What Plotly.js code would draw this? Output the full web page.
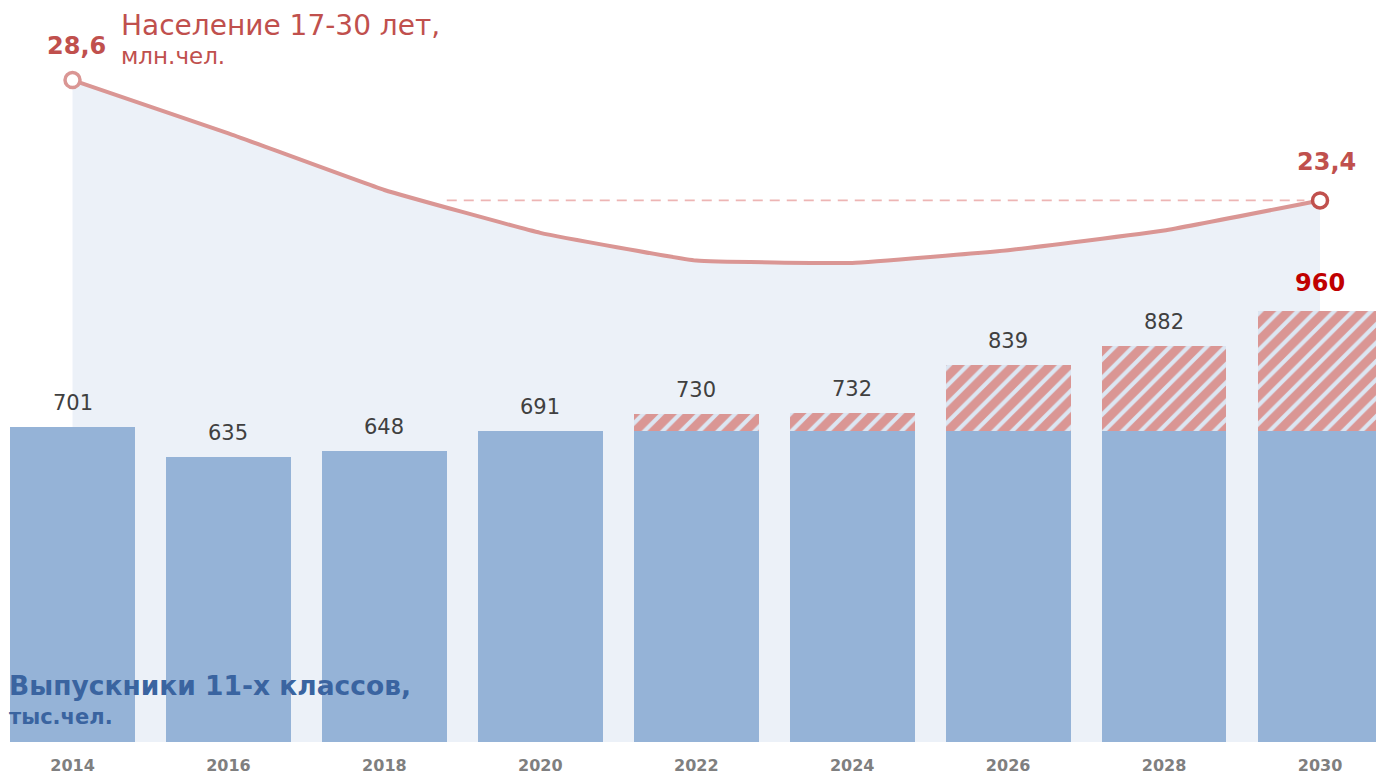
<!DOCTYPE html>
<html>
<head>
<meta charset="utf-8">
<script src="https://cdn.plot.ly/plotly-3.0.1.min.js"></script>
<style>html,body{margin:0;padding:0;background:#fff;}#chart{width:1376px;height:779px;}</style>
</head>
<body>
<div id="chart"></div>
<script>
// ---- data ----
const years = [2014, 2016, 2018, 2020, 2022, 2024, 2026, 2028, 2030];
const tickLabels = ['2014', '2016', '2018', '2020', '2022', '2024', '2026', '2028', '2030'];
const graduates = [701, 635, 648, 691, 730, 732, 839, 882, 960];        // тыс.чел.
const forecast = [false, false, false, false, true, true, true, true, true];
const lastActual = 691;                                                  // level of last actual bar
const population = [28.6, 26.3, 23.85, 22.0, 20.8, 20.7, 21.25, 22.1, 23.4]; // млн.чел.
const graduatesLabel = ['701', '635', '648', '691', '730', '732', '839', '882', '960'];
const populationLabel = ['28,6', '23,4'];

// split bars into base (blue) and forecast increment (hatched)
const baseBars = graduates.map((v, i) => forecast[i] ? Math.min(v, lastActual) : v);
const extraBars = graduates.map((v, i) => v - baseBars[i]);

const FONT = '"DejaVu Sans", sans-serif';
const RED = '#C0504D';
const LINE = '#DA9694';

const traces = [
  {
    x: years, y: population, type: 'scatter', mode: 'lines',
    line: {color: LINE, width: 4, shape: 'spline', smoothing: 0.3},
    fill: 'tozeroy', fillcolor: '#ECF1F8',
    xaxis: 'x', yaxis: 'y', hoverinfo: 'skip', showlegend: false
  },
  {
    x: [2018.8, years[years.length - 1] - 0.2],
    y: [population[population.length - 1], population[population.length - 1]],
    type: 'scatter', mode: 'lines',
    line: {color: '#EDB5B4', width: 1.8, dash: '10px,7px'},
    xaxis: 'x', yaxis: 'y', hoverinfo: 'skip', showlegend: false
  },
  {
    x: [years[0], years[years.length - 1]],
    y: [population[0], population[population.length - 1]],
    type: 'scatter', mode: 'markers',
    marker: {size: 15, color: '#ffffff', line: {width: 3.5, color: [LINE, RED]}},
    xaxis: 'x', yaxis: 'y', hoverinfo: 'skip', showlegend: false
  },
  {
    x: years, y: baseBars, type: 'bar', width: 1.6,
    marker: {color: '#95B3D7', line: {width: 0}},
    xaxis: 'x', yaxis: 'y2', hoverinfo: 'skip', showlegend: false
  },
  {
    x: years, y: extraBars, type: 'bar', width: 1.6,
    marker: {color: '#DCE6F2', line: {width: 0},
      pattern: {shape: '/', fgcolor: '#DA9694', bgcolor: '#DCE6F2', size: 13, solidity: 0.68}},
    xaxis: 'x', yaxis: 'y2', hoverinfo: 'skip', showlegend: false
  }
];

const annotations = [];
graduates.forEach((v, i) => {
  const last = i === graduates.length - 1;
  annotations.push({
    x: years[i], y: v, xref: 'x', yref: 'y2', yanchor: 'bottom', yshift: last ? 12 : 10,
    text: last ? '<b>' + graduatesLabel[i] + '</b>' : graduatesLabel[i],
    showarrow: false,
    font: {family: FONT, size: last ? 24 : 21, color: last ? '#C00000' : '#404040'}
  });
});
annotations.push({
  x: years[0], y: population[0], xref: 'x', yref: 'y', yanchor: 'bottom', yshift: 18, xshift: 4,
  text: '<b>' + populationLabel[0] + '</b>', showarrow: false,
  font: {family: FONT, size: 24, color: RED}
});
annotations.push({
  x: years[years.length - 1], y: population[population.length - 1], xref: 'x', yref: 'y',
  yanchor: 'bottom', yshift: 22, xshift: 6,
  text: '<b>' + populationLabel[1] + '</b>', showarrow: false,
  font: {family: FONT, size: 24, color: RED}
});
annotations.push({
  x: 119, y: 7, xref: 'paper', yref: 'paper', xanchor: 'left', yanchor: 'top', showarrow: false,
  text: 'Население 17-30 лет,', font: {family: FONT, size: 28, color: RED}
});
annotations.push({
  x: 119, y: 41, xref: 'paper', yref: 'paper', xanchor: 'left', yanchor: 'top', showarrow: false,
  text: 'млн.чел.', font: {family: FONT, size: 23, color: RED}
});
annotations.push({
  x: 7, y: 668, xref: 'paper', yref: 'paper', xanchor: 'left', yanchor: 'top', showarrow: false,
  text: '<b>Выпускники 11-х классов,</b>', font: {family: FONT, size: 26.5, color: '#3A64A0'}
});
annotations.push({
  x: 7, y: 703, xref: 'paper', yref: 'paper', xanchor: 'left', yanchor: 'top', showarrow: false,
  text: '<b>тыс.чел.</b>', font: {family: FONT, size: 21, color: '#3A64A0'}
});

const W = 1376, H = 779, mt = 0, mb = 37, ml = 0, mr = 0;
const PH = H - mt - mb, PW = W - ml - mr;
annotations.forEach(a => {
  if (a.xref === 'paper') {
    a.x = (a.x - ml) / PW;
    a.y = 1 - (a.y - mt) / PH;
  }
});

const layout = {
  width: W, height: H,
  margin: {l: ml, r: mr, t: mt, b: mb, pad: 0},
  paper_bgcolor: '#ffffff', plot_bgcolor: '#ffffff',
  barmode: 'stack', bargap: 0,
  showlegend: false,
  xaxis: {
    range: [2013.07, 2030.718], tickvals: years, ticktext: tickLabels.map(t => '<b>' + t + '</b>'),
    showgrid: false, zeroline: false, showline: false, ticks: '',
    tickfont: {family: FONT, size: 16, color: '#7F7F7F'}, ticklabelstandoff: 12, fixedrange: true
  },
  yaxis: {range: [0, 32.06], visible: false, showgrid: false, zeroline: false, fixedrange: true},
  yaxis2: {range: [0, 1651], overlaying: 'y', visible: false, showgrid: false, zeroline: false, fixedrange: true},
  annotations: annotations
};

Plotly.newPlot('chart', traces, layout, {displayModeBar: false, staticPlot: true});
</script>
</body>
</html>
